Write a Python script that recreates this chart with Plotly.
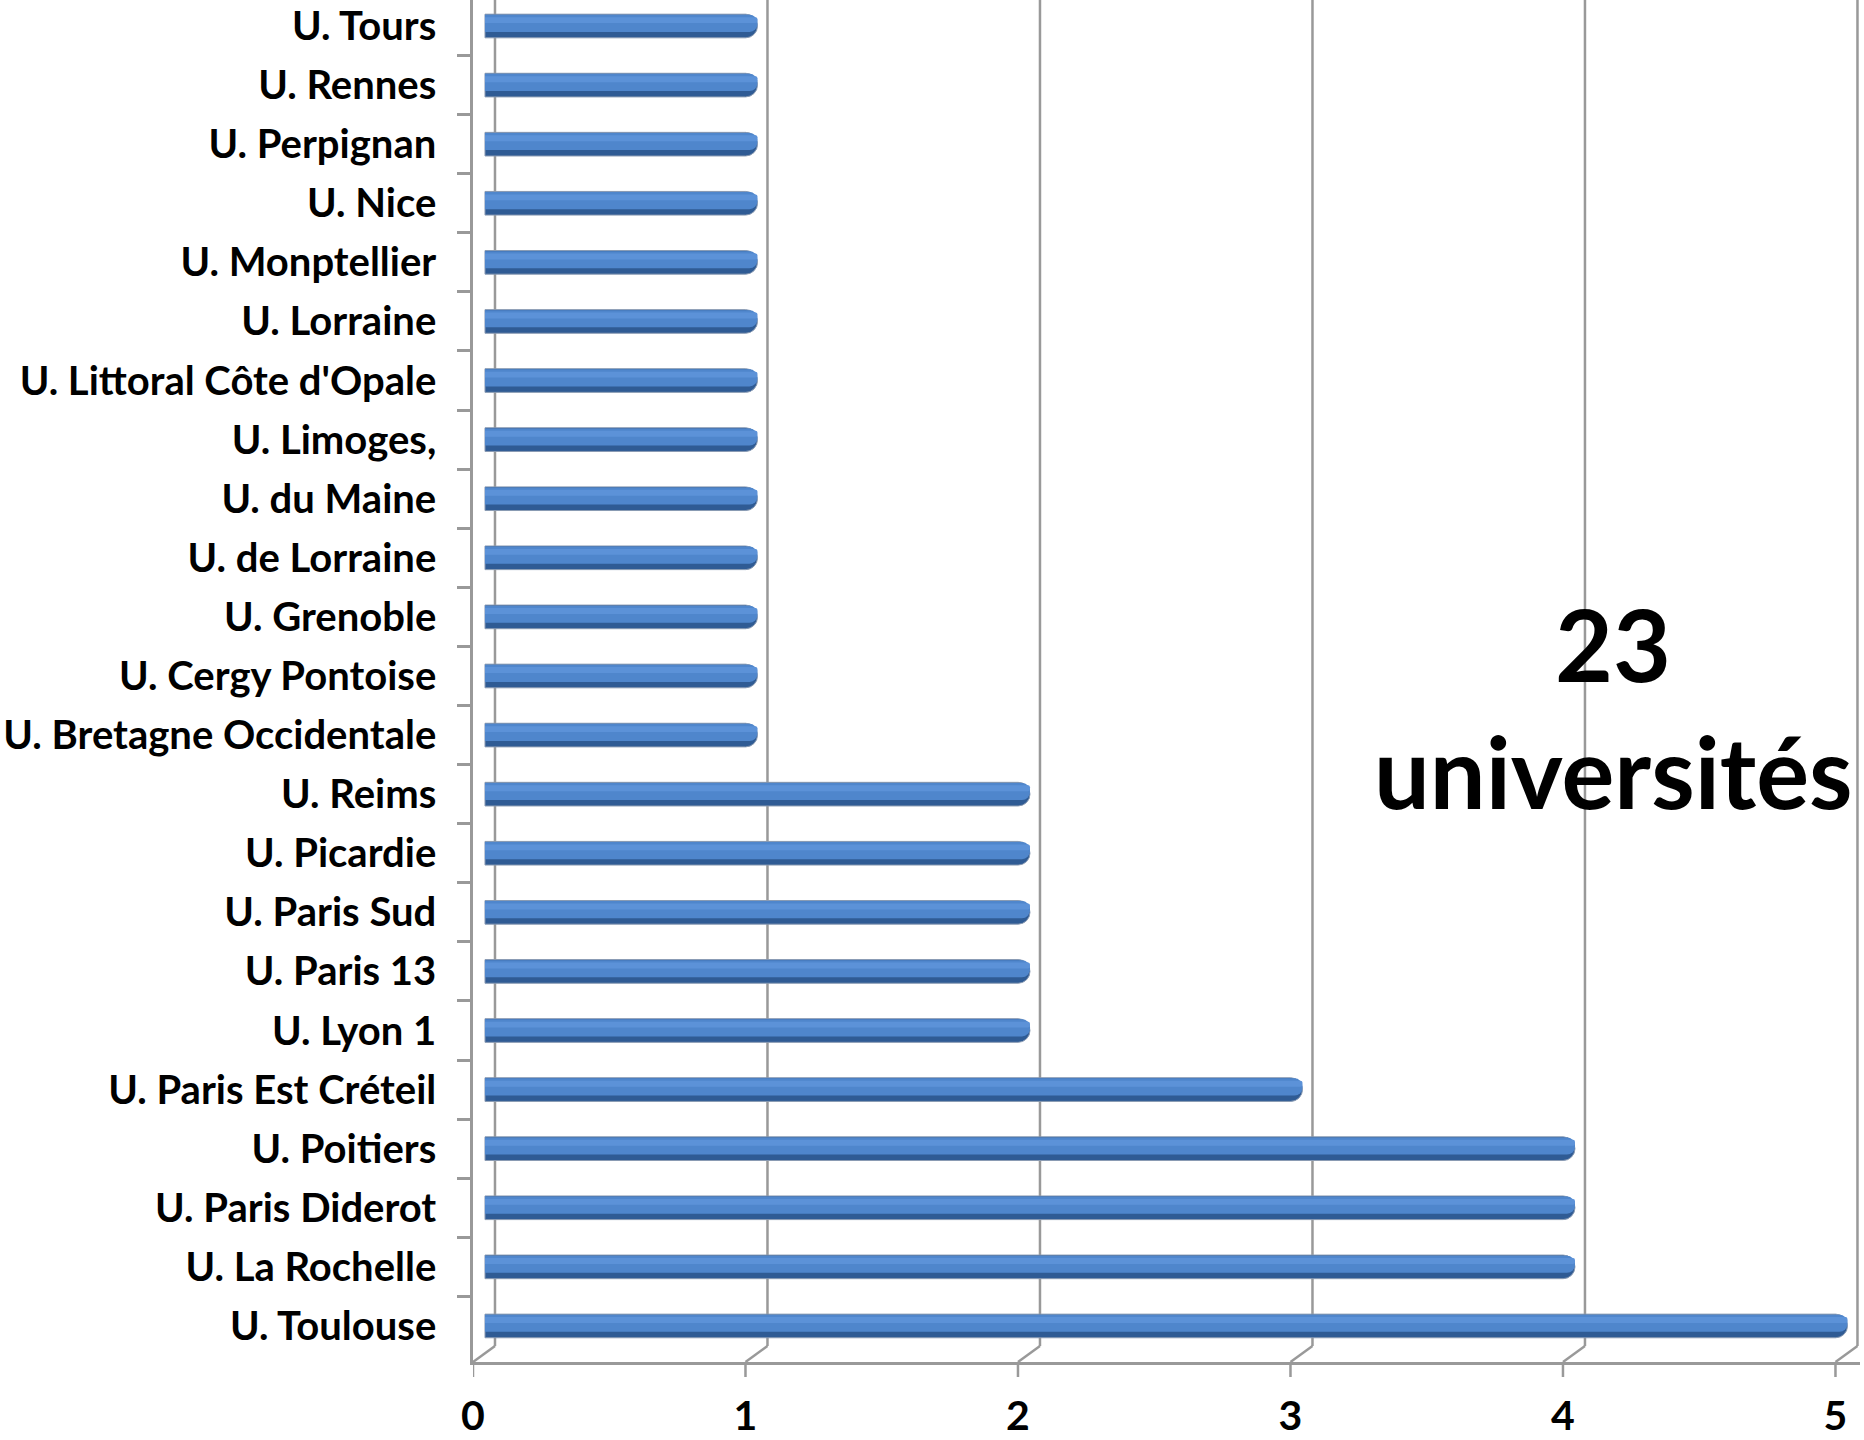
import plotly.graph_objects as go

universities = [
    "U. Tours", "U. Rennes", "U. Perpignan", "U. Nice", "U. Monptellier",
    "U. Lorraine", "U. Littoral Côte d'Opale", "U. Limoges,", "U. du Maine",
    "U. de Lorraine", "U. Grenoble", "U. Cergy Pontoise", "U. Bretagne Occidentale",
    "U. Reims", "U. Picardie", "U. Paris Sud", "U. Paris 13", "U. Lyon 1",
    "U. Paris Est Créteil", "U. Poitiers", "U. Paris Diderot", "U. La Rochelle",
    "U. Toulouse",
]
counts = [1, 1, 1, 1, 1, 1, 1, 1, 1, 1, 1, 1, 1, 2, 2, 2, 2, 2, 3, 4, 4, 4, 5]
x_ticks = [0, 1, 2, 3, 4, 5]
note_number = "23"
note_text = "universités"

FONT = "Lato"
GRID = "#999999"

fig = go.Figure()
# cylinder look: dark base, mid body, light highlight (same data, layered)
fig.add_trace(go.Bar(
    y=universities, x=counts, orientation="h",
    width=0.40, offset=-0.20,
    marker=dict(color="#2f5b94", line=dict(color="#8a9bb3", width=1), cornerradius=12),
    showlegend=False, hoverinfo="skip",
))
fig.add_trace(go.Bar(
    y=universities, x=counts, orientation="h",
    width=0.29, offset=-0.19,
    marker=dict(color="#4f86cc", line=dict(width=0), cornerradius=9),
    showlegend=False,
))
fig.add_trace(go.Bar(
    y=universities, x=counts, orientation="h",
    width=0.10, offset=-0.15,
    marker=dict(color="#5c92d8", line=dict(width=0), cornerradius=3),
    showlegend=False, hoverinfo="skip",
))

shapes = []
for t in x_ticks:
    # back-wall gridline
    shapes.append(dict(type="line", xref="x", yref="paper",
                       xsizemode="pixel", xanchor=t, x0=10, x1=10,
                       ysizemode="pixel", yanchor=0, y0=16, y1=1500,
                       line=dict(color=GRID, width=2.5), layer="below"))
    # floor connector (front -> back)
    shapes.append(dict(type="line", xref="x", yref="paper",
                       xsizemode="pixel", xanchor=t, x0=-12, x1=10,
                       ysizemode="pixel", yanchor=0, y0=0, y1=16,
                       line=dict(color=GRID, width=2.5), layer="below"))
    # front tick mark
    shapes.append(dict(type="line", xref="x", yref="paper",
                       xsizemode="pixel", xanchor=t, x0=-12, x1=-12,
                       ysizemode="pixel", yanchor=0, y0=0, y1=-15,
                       line=dict(color=GRID, width=2.5), layer="below"))

fig.update_layout(
    width=1864, height=1440,
    margin=dict(l=473, r=4, t=0, b=78),
    plot_bgcolor="white", paper_bgcolor="white",
    font=dict(family=FONT, color="black"),
    barmode="overlay",
    shapes=shapes,
    xaxis=dict(
        automargin=False,
        range=[-0.044, 5.046],
        tickvals=x_ticks,
        ticktext=[str(v) for v in x_ticks],
        showgrid=False, zeroline=False,
        showline=True, linecolor=GRID, linewidth=2.5,
        ticks="",
        tickfont=dict(family=FONT, size=41, color="black", weight="bold"),
        ticklabelstandoff=16,
        ticklabelshift=-12,
    ),
    yaxis=dict(
        automargin=False,
        categoryorder="array", categoryarray=universities,
        range=[22.61, -0.44],
        showgrid=False, zeroline=False,
        showline=True, linecolor=GRID, linewidth=2.5,
        ticks="outside", ticklen=13, tickcolor=GRID, tickwidth=2.5,
        tickson="boundaries",
        tickfont=dict(family=FONT, size=40, color="black", weight="bold"),
        ticklabelstandoff=26,
    ),
)

fig.add_annotation(
    x=0.822, y=0.528, xref="paper", yref="paper",
    text=note_number, showarrow=False,
    font=dict(family=FONT, size=100, color="black", weight="bold"),
    xanchor="center", yanchor="middle",
)
fig.add_annotation(
    x=0.822, y=0.434, xref="paper", yref="paper",
    text=note_text, showarrow=False,
    font=dict(family=FONT, size=99, color="black", weight="bold"),
    xanchor="center", yanchor="middle",
)

fig.write_html(
    "out.html",
    config={"displayModeBar": False},
    post_script="document.body.style.margin='0';document.body.style.overflow='hidden';",
)
